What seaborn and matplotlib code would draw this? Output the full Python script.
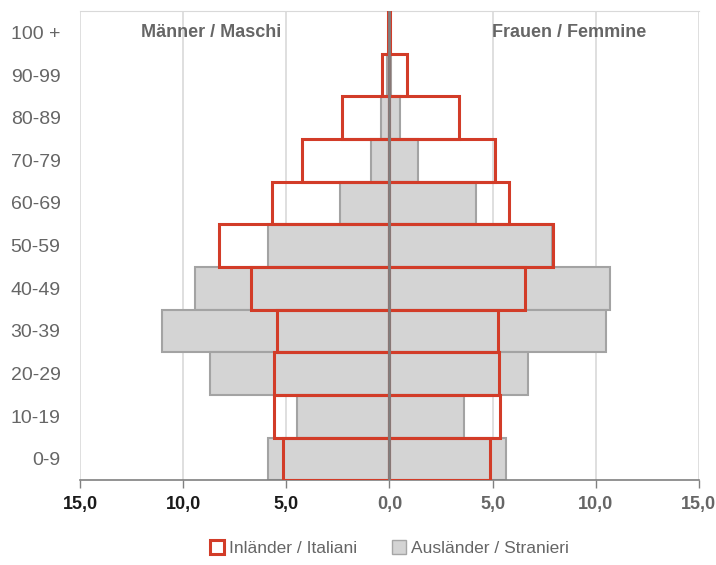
import numpy as np
import pandas as pd
import seaborn as sns
import matplotlib.pyplot as plt
from matplotlib import font_manager
from matplotlib.patches import Patch

# DATA (share in %, men drawn to the left)
age_groups = ["100 +", "90-99", "80-89", "70-79", "60-69", "50-59",
              "40-49", "30-39", "20-29", "10-19", "0-9"]
foreign_men = [0.0, 0.1, 0.4, 0.9, 2.4, 5.9, 9.4, 11.0, 8.7, 4.5, 5.9]
foreign_women = [0.0, 0.1, 0.5, 1.4, 4.2, 7.9, 10.7, 10.5, 6.7, 3.6, 5.65]
italian_men = [0.05, 0.37, 2.3, 4.25, 5.7, 8.25, 6.7, 5.45, 5.6, 5.6, 5.15]
italian_women = [0.05, 0.85, 3.35, 5.1, 5.8, 7.95, 6.55, 5.25, 5.3, 5.35, 4.9]
tick_values = [-15, -10, -5, 0, 5, 10, 15]
tick_labels = ["15,0", "10,0", "5,0", "0,0", "5,0", "10,0", "15,0"]

# font setup
available = {f.name for f in font_manager.fontManager.ttflist}
main_font = "Liberation Sans Narrow" if "Liberation Sans Narrow" in available else "Liberation Sans"

sns.set_style("white")
plt.rcParams["font.family"] = [main_font, "DejaVu Sans"]

df = pd.DataFrame({
    "age": age_groups * 2,
    "foreign": [-v for v in foreign_men] + foreign_women,
    "italian": [-v for v in italian_men] + italian_women,
    "sex": ["m"] * len(age_groups) + ["f"] * len(age_groups),
})

fig, ax = plt.subplots(figsize=(7.16, 5.65), dpi=100)
fig.subplots_adjust(left=0.1117, right=0.976, bottom=0.150, top=0.9805)

grey_txt = "#666666"
red = "#d23c28"

# vertical gridlines
for xv in [-10, -5, 5, 10, 15, -15]:
    ax.axvline(xv, color="#d9d9d9", lw=1.2, zorder=0)

# foreign bars (grey filled), one call per sex so bars don't dodge
for s in ["m", "f"]:
    sns.barplot(data=df[df["sex"] == s], x="foreign", y="age", order=age_groups,
                orient="h", width=1.0, color="#d4d4d4", saturation=1,
                edgecolor="#a3a3a3", linewidth=1.5, errorbar=None, ax=ax, zorder=2)

# italian bars (red outline)
for s in ["m", "f"]:
    sns.barplot(data=df[df["sex"] == s], x="italian", y="age", order=age_groups,
                orient="h", width=1.0, fill=False, color=red, saturation=1,
                linewidth=2.2, errorbar=None, ax=ax, zorder=3)

ax.axvline(0, color="#7f7f7f", lw=2, zorder=4)

ax.set_xlim(-15, 15)
ax.set_ylim(len(age_groups) - 0.5, -0.5)
ax.set_xticks(tick_values)
ax.set_xticklabels(tick_labels, fontsize=13, fontweight="bold")
for i, lab in enumerate(ax.get_xticklabels()):
    lab.set_color("#1a1a1a" if tick_values[i] < 0 else grey_txt)
ax.tick_params(axis="x", length=6, width=1, color="#808080", pad=5, bottom=True)
ax.tick_params(axis="y", length=0, labelsize=14, labelcolor=grey_txt, pad=14)
ax.set_xlabel("")
ax.set_ylabel("")

for side in ["left", "right"]:
    ax.spines[side].set_visible(False)
ax.spines["top"].set_color("#d9d9d9")
ax.spines["bottom"].set_color("#808080")
ax.spines["bottom"].set_linewidth(1.2)

ax.text(-5.25, 0, "Männer / Maschi", ha="right", va="center", fontsize=13,
        fontweight="bold", color=grey_txt, family=["Liberation Sans", "DejaVu Sans"])
ax.text(4.95, 0, "Frauen / Femmine", ha="left", va="center", fontsize=13,
        fontweight="bold", color=grey_txt, family=["Liberation Sans", "DejaVu Sans"])

handles = [Patch(facecolor="white", edgecolor=red, linewidth=2.2, label="Inländer / Italiani"),
           Patch(facecolor="#d4d4d4", edgecolor="#a6a6a6", linewidth=1, label="Ausländer / Stranieri")]
leg = fig.legend(handles=handles, loc="lower center", bbox_to_anchor=(0.544, -0.012), ncol=2,
                 frameon=False, fontsize=12.5, handlelength=0.8, handleheight=0.8,
                 handletextpad=0.3, columnspacing=2.0)
for t in leg.get_texts():
    t.set_color(grey_txt)

fig.savefig("out.png", dpi=100)
